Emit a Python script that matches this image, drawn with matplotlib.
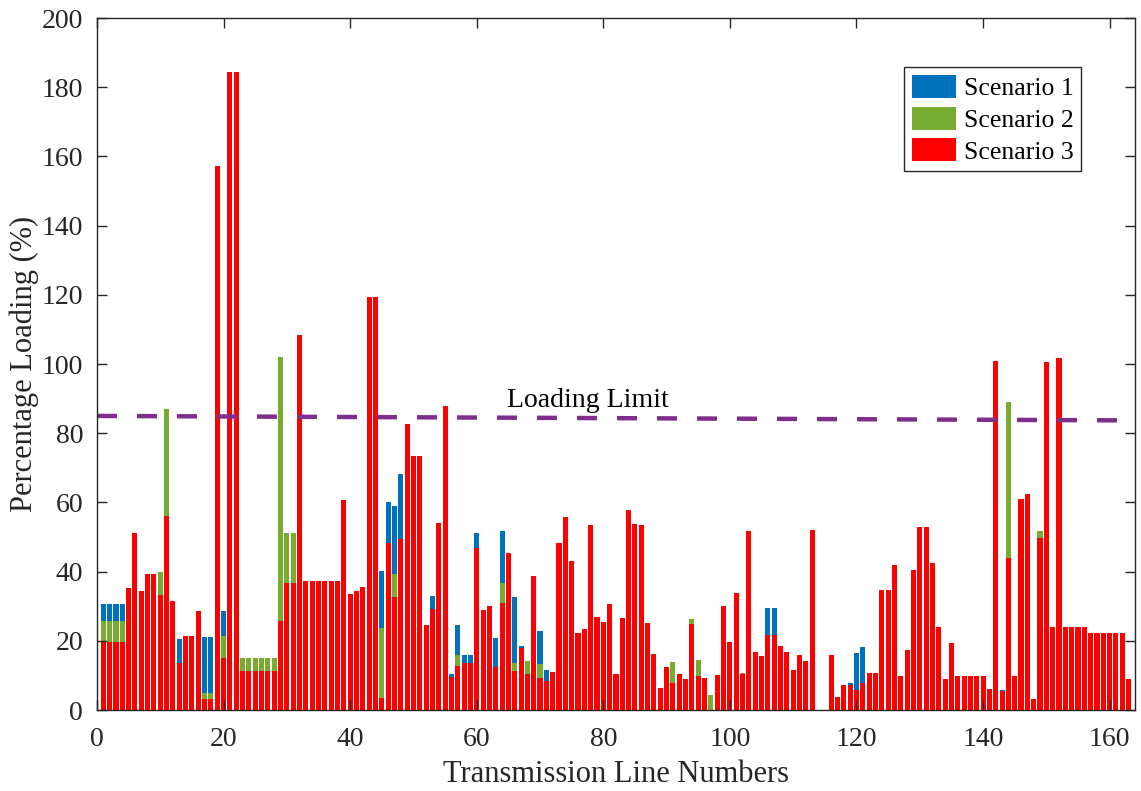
import numpy as np
import matplotlib
matplotlib.use('Agg')
import matplotlib.pyplot as plt

# Datos: porcentaje de carga por linea (lineas 1..163)
scenario1 = [
    30.5, 30.5, 30.5, 30.5, 35.3, 51.1, 34.4, 39.2, 39.2, 33.2,
    56.1, 31.4, 20.5, 21.5, 21.5, 28.6, 21.1, 21.1, 157.2, 28.6,
    184.4, 184.4, 11.2, 11.2, 11.2, 11.2, 11.2, 11.2, 25.7, 36.6,
    36.6, 108.4, 37.3, 37.3, 37.3, 37.3, 37.3, 37.3, 60.8, 33.4,
    34.5, 35.6, 119.4, 119.4, 40.2, 60.0, 59.1, 68.2, 82.6, 73.4,
    73.4, 24.5, 32.9, 54.0, 87.9, 10.5, 24.5, 15.8, 15.8, 51.2,
    29.0, 30.1, 20.8, 51.6, 45.3, 32.8, 18.5, 10.5, 38.6, 22.7,
    11.7, 11.0, 48.2, 55.8, 43.1, 22.4, 23.5, 53.4, 26.9, 25.5,
    30.5, 10.4, 26.5, 57.9, 53.8, 53.4, 25.1, 16.3, 6.4, 12.5,
    7.7, 10.4, 8.9, 24.8, 9.9, 9.2, 0.0, 10.0, 30.1, 19.7,
    33.9, 10.3, 51.6, 16.7, 15.7, 29.5, 29.5, 18.5, 16.8, 11.5,
    15.9, 14.3, 51.9, 0.0, 0.0, 15.9, 3.9, 7.2, 7.8, 16.6,
    18.2, 10.6, 10.6, 34.6, 34.6, 41.8, 9.9, 17.3, 40.6, 52.8,
    52.8, 42.6, 24.0, 9.0, 19.4, 9.9, 9.9, 9.9, 9.9, 9.9,
    6.0, 100.9, 5.7, 43.9, 9.9, 61.1, 62.4, 3.2, 49.7, 100.6,
    24.0, 101.7, 24.0, 24.0, 24.0, 24.0, 22.3, 22.3, 22.3, 22.3,
    22.3, 22.3, 9.0,
]
scenario2 = [
    25.8, 25.8, 25.8, 25.8, 35.3, 51.1, 34.4, 39.2, 39.2, 39.8,
    87.1, 31.4, 13.6, 21.5, 21.5, 28.6, 5.0, 5.0, 157.2, 21.5,
    184.4, 184.4, 15.0, 15.0, 15.0, 15.0, 15.0, 15.0, 102.0, 51.3,
    51.3, 108.4, 37.3, 37.3, 37.3, 37.3, 37.3, 37.3, 60.8, 33.4,
    34.5, 35.6, 119.4, 119.4, 23.8, 48.4, 39.2, 49.3, 82.6, 73.4,
    73.4, 24.5, 29.2, 54.0, 87.9, 9.4, 15.8, 13.6, 13.6, 46.8,
    29.0, 30.1, 12.3, 36.6, 45.3, 13.6, 17.8, 14.2, 38.6, 13.4,
    8.3, 11.0, 48.2, 55.8, 43.1, 22.4, 23.5, 53.4, 26.9, 25.5,
    30.5, 10.4, 26.7, 57.9, 53.8, 53.4, 25.1, 16.3, 6.4, 12.5,
    13.8, 10.4, 8.9, 26.4, 14.5, 9.2, 4.4, 10.0, 30.1, 19.7,
    33.9, 10.6, 51.6, 16.7, 15.7, 21.8, 21.8, 18.5, 16.8, 11.5,
    15.9, 14.3, 51.9, 0.0, 0.0, 15.9, 3.9, 7.2, 7.1, 5.9,
    7.7, 10.6, 10.6, 34.6, 34.6, 41.8, 9.9, 17.3, 40.6, 52.8,
    52.8, 42.6, 24.0, 9.0, 19.4, 9.9, 9.9, 9.9, 9.9, 9.9,
    6.0, 100.9, 5.4, 89.0, 9.9, 61.1, 62.4, 3.2, 51.6, 100.6,
    24.0, 101.7, 24.0, 24.0, 24.0, 24.0, 22.3, 22.3, 22.3, 22.3,
    22.3, 22.3, 9.0,
]
scenario3 = [
    19.7, 19.7, 19.7, 19.7, 35.3, 51.1, 34.4, 39.2, 39.2, 33.2,
    56.1, 31.4, 13.6, 21.5, 21.5, 28.6, 3.1, 3.1, 157.2, 15.0,
    184.4, 184.4, 11.2, 11.2, 11.2, 11.2, 11.2, 11.2, 25.7, 36.6,
    36.6, 108.4, 37.3, 37.3, 37.3, 37.3, 37.3, 37.3, 60.8, 33.4,
    34.5, 35.6, 119.4, 119.4, 3.6, 48.4, 32.6, 49.3, 82.6, 73.4,
    73.4, 24.5, 29.2, 54.0, 87.9, 9.4, 12.6, 13.6, 13.6, 46.8,
    29.0, 30.1, 12.3, 30.8, 45.3, 11.3, 17.8, 10.5, 38.6, 9.3,
    8.3, 11.0, 48.2, 55.8, 43.1, 22.4, 23.5, 53.4, 26.9, 25.5,
    30.5, 10.4, 26.5, 57.9, 53.8, 53.4, 25.1, 16.3, 6.4, 12.5,
    7.7, 10.4, 8.9, 24.8, 9.9, 9.2, 0.0, 10.0, 30.1, 19.7,
    33.9, 10.3, 51.6, 16.7, 15.7, 21.8, 21.8, 18.5, 16.8, 11.5,
    15.9, 14.3, 51.9, 0.0, 0.0, 15.9, 3.9, 7.2, 7.1, 5.9,
    7.7, 10.6, 10.6, 34.6, 34.6, 41.8, 9.9, 17.3, 40.6, 52.8,
    52.8, 42.6, 24.0, 9.0, 19.4, 9.9, 9.9, 9.9, 9.9, 9.9,
    6.0, 100.9, 5.4, 43.9, 9.9, 61.1, 62.4, 3.2, 49.7, 100.6,
    24.0, 101.7, 24.0, 24.0, 24.0, 24.0, 22.3, 22.3, 22.3, 22.3,
    22.3, 22.3, 9.0,
]
lineas = np.arange(1, len(scenario3) + 1)

# Limite de carga (ligeramente inclinado en la figura original)
limite_x = [0, 164]
limite_y = [85.0, 83.7]

plt.rcParams['font.family'] = ['Liberation Serif', 'DejaVu Serif']
gris = '#262626'

fig = plt.figure(figsize=(11.41, 7.91), dpi=100)
ax = fig.add_axes([0.085, 0.1024, 0.9097, 0.8748])

ax.bar(lineas, scenario1, width=0.8, color='#0072BD', label='Scenario 1')
ax.bar(lineas, scenario2, width=0.8, color='#77AC30', label='Scenario 2')
ax.bar(lineas, scenario3, width=0.8, color='#FF0000', label='Scenario 3')

ax.plot(limite_x, limite_y, color='#7E2F8E', linestyle=(0, (4.5, 4.5)), linewidth=3.2)
ax.text(77.5, 89.5, 'Loading Limit', fontsize=20, ha='center', va='center', color='black')

ax.set_xlim(0, 164)
ax.set_ylim(0, 200)
ax.set_xticks(np.arange(0, 161, 20))
ax.set_yticks(np.arange(0, 201, 20))
ax.tick_params(direction='in', length=7, width=1, top=True, right=True,
               labelsize=20, colors=gris)
ax.tick_params(axis='x', pad=12)
ax.tick_params(axis='y', pad=10)
for s in ax.spines.values():
    s.set_color(gris)
    s.set_linewidth(1)

ax.set_xlabel('Transmission Line Numbers', fontsize=22, color=gris, labelpad=6)
ax.set_ylabel('Percentage Loading (%)', fontsize=22, color=gris, labelpad=2)

leg = ax.legend(loc='upper right', bbox_to_anchor=(0.948, 0.929), fontsize=18.5,
                fancybox=False, framealpha=1, edgecolor=gris, borderaxespad=0,
                handlelength=1.7, handleheight=1.0, handletextpad=0.3,
                labelspacing=0.25, borderpad=0.3)
leg.get_frame().set_linewidth(1)

fig.savefig('out.png', dpi=100)
